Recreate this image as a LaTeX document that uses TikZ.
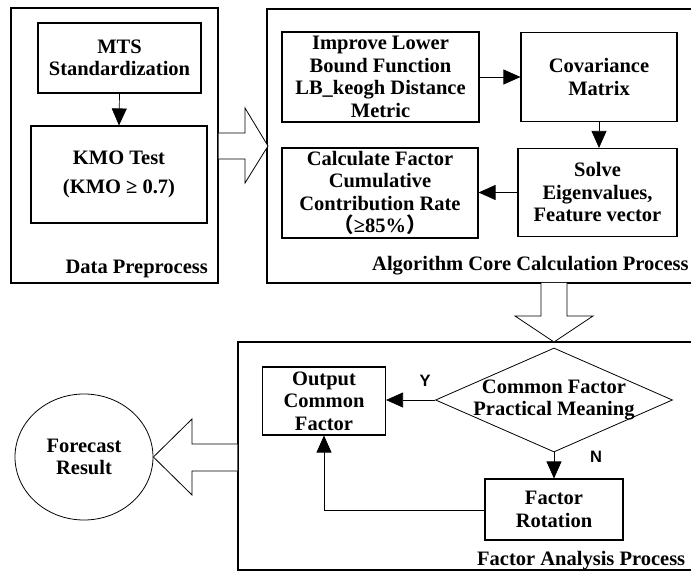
\documentclass[tikz,border=0pt]{standalone}
\usepackage{fontspec}
\setmainfont{Liberation Serif}
\newfontfamily\sansY{Liberation Sans}
\newfontfamily\cjkf{Noto Sans CJK SC}
\usetikzlibrary{shapes.geometric,arrows.meta}
\begin{document}
\begin{tikzpicture}[x=1pt,y=-1pt,
  txt/.style={font=\bfseries\fontsize{20.5}{22.5}\selectfont, align=center},
  box/.style={draw, line width=1.1pt, rectangle, inner sep=0pt, txt},
  group/.style={draw, line width=1.1pt, rectangle, inner sep=0pt},
  lab/.style={font=\bfseries\fontsize{20.5}{22.5}\selectfont, inner sep=0pt},
  yn/.style={font=\sansY\bfseries\fontsize{16.5}{18}\selectfont, inner sep=0pt},
  conn/.style={line width=0.7pt, -{Triangle[length=17pt,width=15pt]}},
  hollow/.style={draw, line width=0.8pt, fill=white, line join=miter}
]
\useasboundingbox (0,0) rectangle (691,572);

% groups
\node[group, minimum width=207pt, minimum height=275pt] (dp) at (114.5,145.5) {};
\node[group, minimum width=453pt, minimum height=274pt] (alg) at (493.5,146) {};
\node[group, minimum width=482pt, minimum height=228pt] (fa) at (479,456) {};

\node[lab, anchor=base east] (dplab) at (208,273) {Data Preprocess};
\node[lab, anchor=base west] (alglab) at (372,270) {Algorithm Core Calculation Process};
\node[lab, anchor=base west] (falab) at (477,565) {Factor Analysis Process};

% data preprocess
\node[box, minimum width=163pt, minimum height=70pt] (mts) at (119.5,58) {MTS\\Standardization};
\node[box, minimum width=176pt, minimum height=97pt] (kmo) at (119,174.5) {KMO Test\\[7pt](KMO ≥ 0.7)};

% algorithm core
\node[box, minimum width=197pt, minimum height=90pt] (imp) at (380.5,77) {Improve Lower\\Bound Function\\LB\_keogh Distance\\Metric};
\node[box, minimum width=156pt, minimum height=89pt] (cov) at (599,77) {Covariance\\Matrix};
\node[box, minimum width=159pt, minimum height=88pt] (sol) at (597.5,192.5) {Solve\\Eigenvalues,\\Feature vector};
\node[box, minimum width=196pt, minimum height=90pt] (calc) at (380,193) {Calculate Factor\\Cumulative\\Contribution Rate\\{\cjkf（}≥85\%{\cjkf）}};

% factor analysis
\node[draw, line width=0.8pt, diamond, minimum width=237pt, minimum height=104pt, inner sep=0pt] (dia) at (554,400) {};
\node[txt, inner sep=0pt] (diatext) at (554,400) {Common Factor\\Practical Meaning};
\node[box, minimum width=123pt, minimum height=68pt] (out) at (324,401) {Output\\Common\\Factor};
\node[box, minimum width=138pt, minimum height=61pt] (rot) at (554,509.5) {Factor\\Rotation};
\node[yn] (ylab) at (425,381) {Y};
\node[yn] (nlab) at (596,457) {N};

% forecast
\node[draw, line width=0.8pt, ellipse, minimum width=138pt, minimum height=126pt, inner sep=0pt, txt] (fc) at (84,457) {Forecast\\Result};

% connectors
\draw[conn] (mts.south) -- (kmo.north);
\draw[conn] (imp.east) -- (cov.west);
\draw[conn] (cov.south) -- (cov.south |- sol.north);
\draw[conn] (sol.west) -- (calc.east |- sol.west);
\draw[conn] (dia.west) -- (out.east |- dia.west);
\draw[conn] (dia.south) -- (rot.north);
\draw[conn] (rot.west |- 0,510) -| (out.south);

% hollow arrows
\draw[hollow] (dp.east |- 0,133) -- (245,133) -- (245,108) -- (268,146) -- (245,183) -- (245,159) -- (dp.east |- 0,159);
\draw[hollow] (541,283) -- (541,316) -- (515,316) -- (554,342) -- (593,316) -- (567,316) -- (567,283);
\draw[hollow] (fa.west |- 0,444) -- (192,444) -- (192,419) -- (fc.east |- 0,457) -- (192,495) -- (192,471) -- (fa.west |- 0,471);
\end{tikzpicture}
\end{document}
